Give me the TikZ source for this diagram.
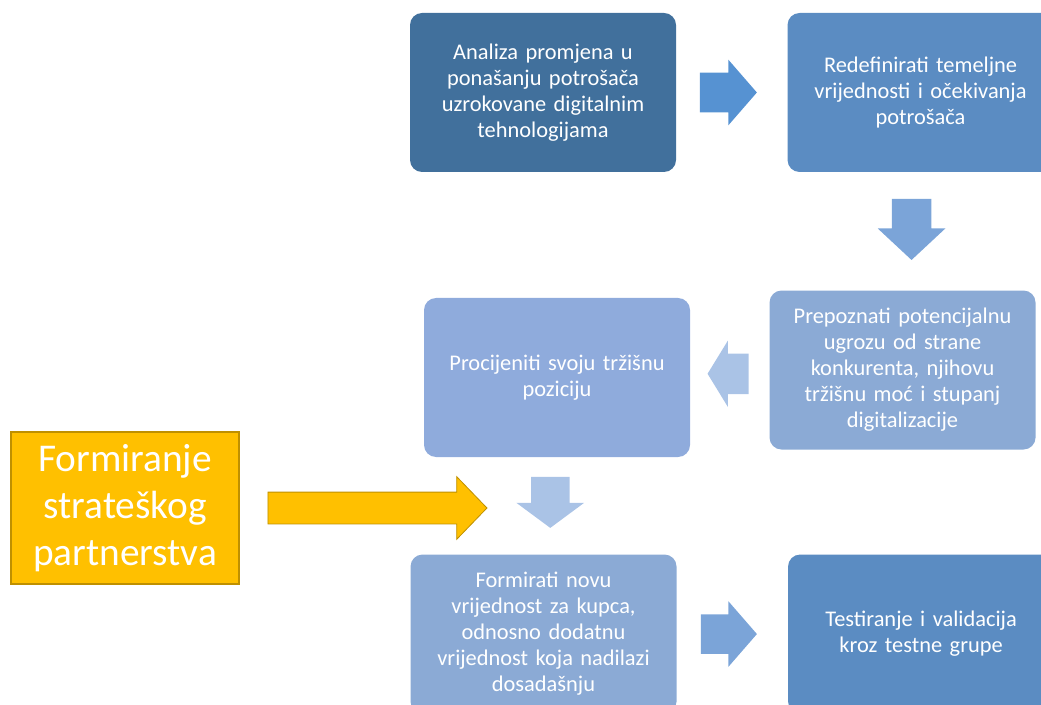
\documentclass[tikz,border=0pt]{standalone}
\usepackage{fontspec}
\setmainfont{Carlito}
\usepackage{xcolor}
\usepackage{tikz}
\usetikzlibrary{positioning}
\usetikzlibrary{shapes.arrows}
\usetikzlibrary{calc}

\definecolor{stepdark}{HTML}{41709C}
\definecolor{stepmid}{HTML}{5B8CC2}
\definecolor{steplight}{HTML}{8BAAD5}
\definecolor{steppale}{HTML}{8FABDC}
\definecolor{arrmid}{HTML}{5692D2}
\definecolor{arrsoft}{HTML}{7BA4D8}
\definecolor{arrpale}{HTML}{AAC3E6}
\definecolor{partnerfill}{HTML}{FFC000}
\definecolor{partnerline}{HTML}{BF9000}

\begin{document}
\begin{tikzpicture}[x=0.75pt,y=0.75pt]
  \tikzset{Stepbox/.style={rectangle, rounded corners=9pt, fill=#1, text=white, align=center, text width=196pt, minimum width=199.5pt, minimum height=119.25pt, inner sep=0pt, font=\fontsize{16.8}{19.5}\selectfont}};
  \tikzset{Partner/.style={rectangle, fill=partnerfill, draw=partnerline, line width=0.8pt, text=white, align=center, minimum width=171pt, minimum height=114pt, inner sep=0pt, font=\fontsize{29.5}{35.5}\selectfont}};
  \tikzset{Blockarrow/.style={single arrow, fill=#1, draw=none, inner sep=0pt, text width=0pt, text depth=0pt, minimum width=0pt}};
  \useasboundingbox (0,0) rectangle (1041,704);
  \node[Stepbox=stepdark] at (543,611.5) (a) {Analiza promjena u\\ponašanju potrošača\\uzrokovane digitalnim\\tehnologijama};
  \node[Stepbox=stepmid][right=83.25pt of a] (b) {Redefinirati temeljne\\vrijednosti i očekivanja\\potrošača};
  \node[Stepbox=steplight][below=88.5pt of b, xshift=-13.5pt] (c) {Prepoznati potencijalnu\\ugrozu od strane\\konkurenta, njihovu\\tržišnu moć i stupanj\\digitalizacije};
  \node[Stepbox=steppale][left=59.25pt of c, yshift=-5.6pt] (d) {Procijeniti svoju tržišnu\\poziciju};
  \node[Stepbox=steplight][below=72.75pt of d, xshift=-10.1pt] (e) {Formirati novu\\vrijednost za kupca,\\odnosno dodatnu\\vrijednost koja nadilazi\\dosadašnju};
  \node[Stepbox=stepmid][right=83.25pt of e] (f) {Testiranje i validacija\\kroz testne grupe};
  \node[Partner] at (125,196) (g) {Formiranje\\strateškog\\partnerstva};
  % block arrows between the steps
  \node[Blockarrow=arrmid, text height=29.25pt, single arrow head extend=9.75pt, minimum height=42.75pt, single arrow tip angle=98] at ($(a.east)!0.5!(b.west)+(-12,0)$) (ab) {};
  \node[Blockarrow=arrsoft, text height=29.25pt, single arrow head extend=10.5pt, minimum height=45.75pt, single arrow tip angle=94, rotate=-90] at ($(b.south)!0.5!(c.north)+(0,11)$) (bc) {};
  \node[Blockarrow=arrpale, text height=30pt, single arrow head extend=9.75pt, minimum height=30.75pt, single arrow tip angle=117, rotate=180] at ($(c.west)!0.5!(d.east)+(4.5,0)$) (cd) {};
  \node[Blockarrow=arrpale, text height=28.5pt, single arrow head extend=10.9pt, minimum height=38.25pt, single arrow tip angle=107, rotate=-90] at ($(d.south)!0.5!(e.north)+(0,10.5)$) (de) {};
  \node[Blockarrow=arrsoft, text height=29.25pt, single arrow head extend=9.75pt, minimum height=42pt, single arrow tip angle=98] at ($(e.east)!0.5!(f.west)+(-12,0)$) (ef) {};
  \node[single arrow, fill=partnerfill, draw=partnerline, line width=0.6pt, inner sep=0pt, text width=0pt, text height=23.25pt, text depth=0pt, minimum width=0pt, single arrow head extend=11.6pt, single arrow tip angle=92, minimum height=164.25pt, right=21pt of g] (gp) {};
\end{tikzpicture}
\end{document}
